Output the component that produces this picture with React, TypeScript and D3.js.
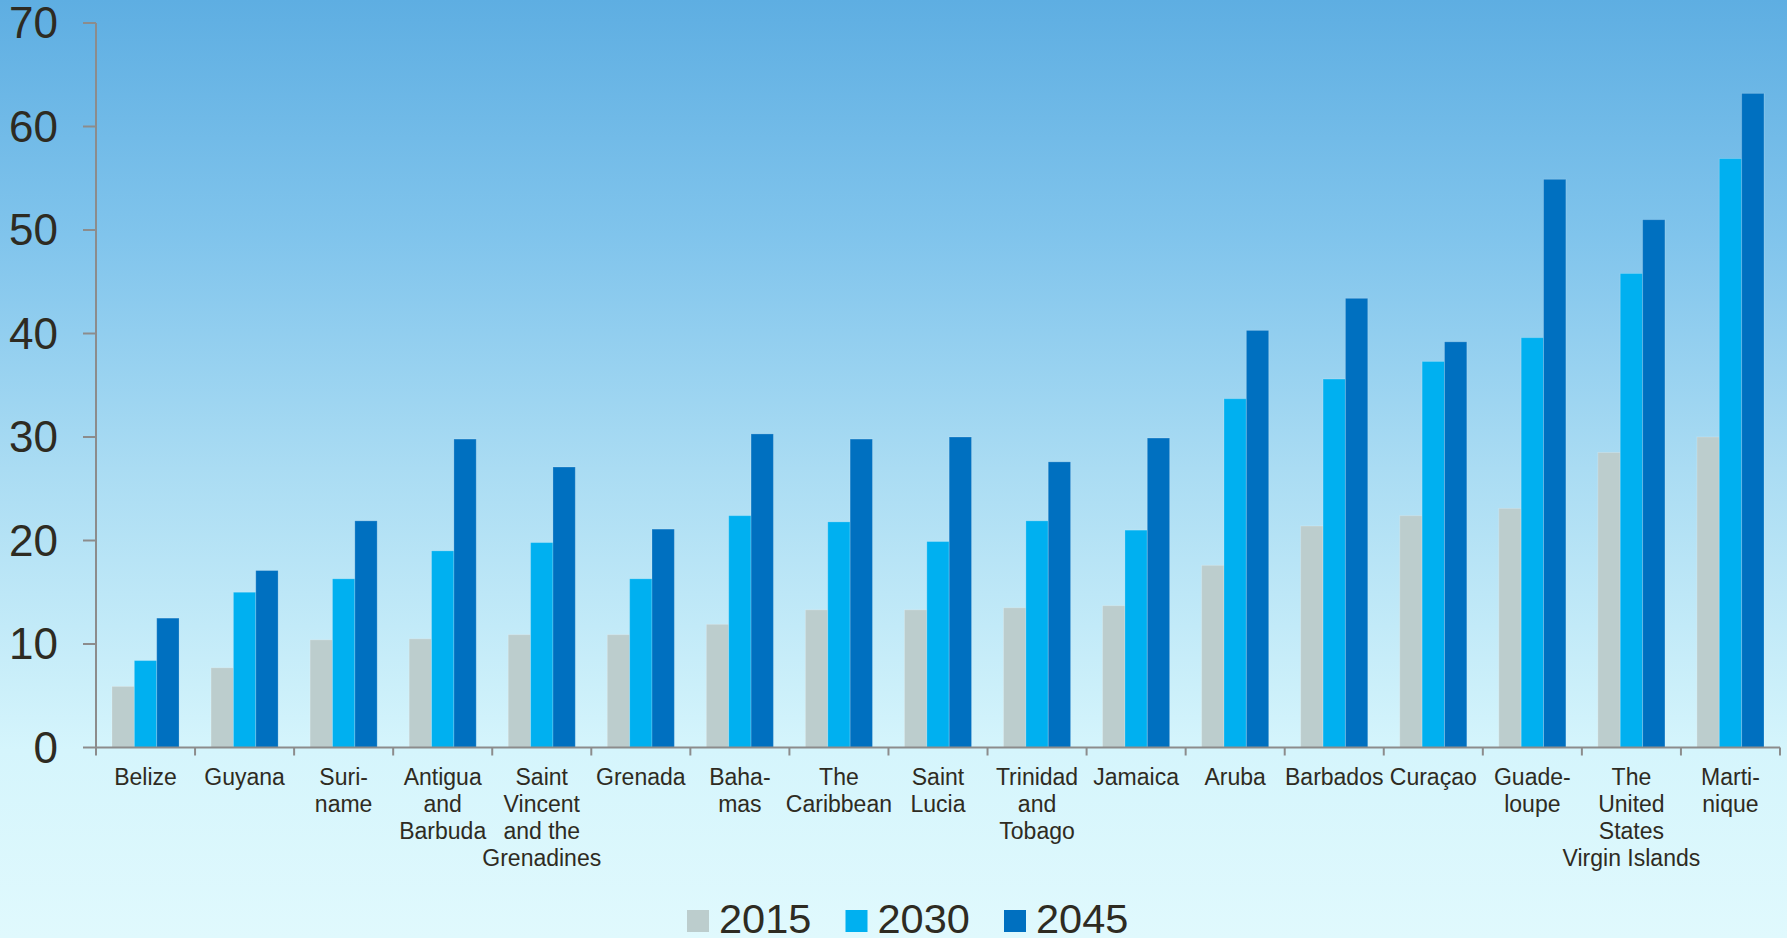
import React from "react";
import { scaleBand, scaleLinear, range } from "d3";

const countries = [
  "Belize", "Guyana", "Suri-|name", "Antigua|and|Barbuda", "Saint|Vincent|and the|Grenadines",
  "Grenada", "Baha-|mas", "The|Caribbean", "Saint|Lucia", "Trinidad|and|Tobago", "Jamaica",
  "Aruba", "Barbados", "Curaçao", "Guade-|loupe", "The|United|States|Virgin Islands", "Marti-|nique",
];
const years = ["2015", "2030", "2045"];
const v2015 = [5.9, 7.7, 10.4, 10.5, 10.9, 10.9, 11.9, 13.3, 13.3, 13.5, 13.7, 17.6, 21.4, 22.4, 23.1, 28.5, 30.0];
const v2030 = [8.4, 15.0, 16.3, 19.0, 19.8, 16.3, 22.4, 21.8, 19.9, 21.9, 21.0, 33.7, 35.6, 37.3, 39.6, 45.8, 56.9];
const v2045 = [12.5, 17.1, 21.9, 29.8, 27.1, 21.1, 30.3, 29.8, 30.0, 27.6, 29.9, 40.3, 43.4, 39.2, 54.9, 51.0, 63.2];
const yTicks = [0, 10, 20, 30, 40, 50, 60, 70];
const colors = ["#bccdcd", "#00b0f0", "#0070c0"];

const W = 1787, H = 938;

export default function App() {
  const series = [v2015, v2030, v2045];
  const x = scaleBand<number>().domain(range(countries.length)).range([96, 1780]).padding(0);
  const bw = x.bandwidth();
  const inner = scaleBand<string>().domain(years).range([16, bw - 16]).padding(0);
  const y = scaleLinear().domain([0, 70]).range([747.5, 23]);
  const font = "'Liberation Sans', Arial, sans-serif";
  const textColor = "#2e2b22";
  const axisColor = "#8c8c8c";

  return (
    <svg width={W} height={H} style={{ position: "absolute", left: 0, top: 0 }} fontFamily={font}>
      <defs>
        <linearGradient id="bg" x1="0" y1="0" x2="0" y2="1">
          <stop offset="0" stopColor="#5eaee2" />
          <stop offset="0.25" stopColor="#80c4ec" />
          <stop offset="0.5" stopColor="#aadcf3" />
          <stop offset="0.8" stopColor="#d5f5fc" />
          <stop offset="1" stopColor="#e0f9fd" />
        </linearGradient>
      </defs>
      <rect x={0} y={0} width={W} height={H} fill="url(#bg)" />

      {/* bars */}
      {countries.map((c, i) => (
        <g key={c} transform={`translate(${x(i)},0)`}>
          {series.map((s, k) => (
            <rect
              key={k}
              x={inner(years[k])}
              y={y(s[i])}
              width={inner.bandwidth()}
              height={y(0) - y(s[i])}
              fill={colors[k]}
              stroke="#ffffff"
              strokeOpacity={0.2}
              strokeWidth={1}
            />
          ))}
        </g>
      ))}

      {/* y axis */}
      <line x1={96} x2={96} y1={y(70)} y2={y(0)} stroke={axisColor} strokeWidth={2} />
      {yTicks.map((t) => (
        <g key={t}>
          <line x1={83} x2={96} y1={y(t)} y2={y(t)} stroke={axisColor} strokeWidth={2} />
          <text x={58} y={y(t)} dy="0.35em" textAnchor="end" fontSize={44} fill={textColor}>
            {t}
          </text>
        </g>
      ))}

      {/* x axis */}
      <line x1={96} x2={1780} y1={y(0)} y2={y(0)} stroke={axisColor} strokeWidth={2} />
      {range(countries.length + 1).map((i) => {
        const xx = 96 + i * bw;
        return <line key={i} x1={xx} x2={xx} y1={y(0)} y2={y(0) + 8} stroke={axisColor} strokeWidth={2} />;
      })}
      {countries.map((c, i) => (
        <text key={c} x={(x(i) as number) + bw / 2} y={785} textAnchor="middle" fontSize={23} fill={textColor}>
          {c.split("|").map((line, j) => (
            <tspan key={j} x={(x(i) as number) + bw / 2} dy={j === 0 ? 0 : 27}>
              {line}
            </tspan>
          ))}
        </text>
      ))}

      {/* legend */}
      {years.map((yr, k) => (
        <g key={yr} transform={`translate(${687 + k * 158.5},0)`}>
          <rect x={0} y={910} width={22} height={22} fill={colors[k]} />
          <text x={32} y={933} fontSize={41.5} fill={textColor}>
            {yr}
          </text>
        </g>
      ))}
    </svg>
  );
}
